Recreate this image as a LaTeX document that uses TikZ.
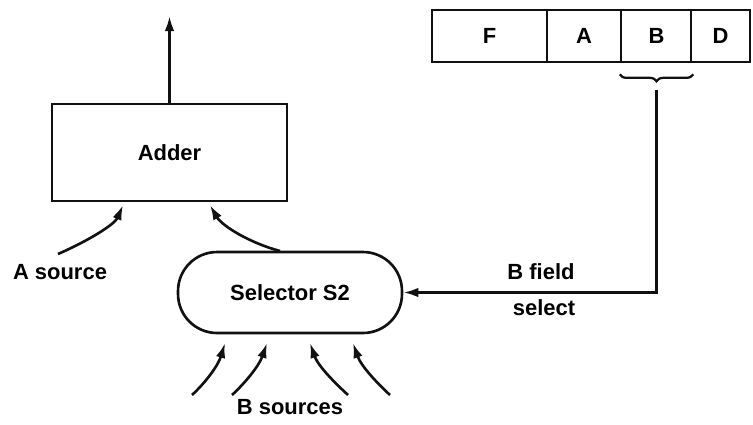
\documentclass[tikz,border=0pt]{standalone}
\usepackage{fontspec}
\setmainfont{Liberation Sans}
\usepackage{tikz}
\usepackage{xcolor}
\usetikzlibrary{arrows.meta,positioning,calc,decorations.pathreplacing}
\definecolor{ink}  {HTML}{111111}
\definecolor{paper}{HTML}{FFFFFF}
\tikzset{
  unitbox/.style  ={draw=ink, fill=paper, line width=1.5pt,
                    minimum width=4.7cm, minimum height=1.94cm,
                    align=center, font=\fontsize{12.5}{14}\selectfont\bfseries, inner sep=4pt},
  selbox/.style   ={draw=ink, fill=paper, line width=1.5pt, rounded corners=0.78cm,
                    minimum width=4.48cm, minimum height=1.62cm,
                    align=center, font=\fontsize{12.5}{14}\selectfont\bfseries, inner sep=4pt},
  cellbox/.style  ={draw=ink, fill=paper, line width=1.5pt,
                    minimum height=1.04cm, inner sep=0pt,
                    font=\fontsize{12.5}{14}\selectfont\bfseries},
  lbl/.style      ={font=\fontsize{12.5}{14}\selectfont\bfseries, inner sep=1pt},
  flowarr/.style  ={-{Latex[length=3mm,width=1.9mm]}, line width=1.5pt, draw=ink},
  bracearr/.style ={decorate, decoration={brace,amplitude=0.14cm}, line width=1.3pt, draw=ink},
}
\begin{document}
\begin{tikzpicture}[x=0.02cm,y=-0.02cm]
        \useasboundingbox (0,0) rectangle (753,424);
        % instruction word
        \node[cellbox,minimum width=2.3cm]  (fF) at (489.5,36) {F};
        \node[cellbox,minimum width=1.48cm] (fA) at (584,36)   {A};
        \node[cellbox,minimum width=1.42cm] (fB) at (656.5,36) {B};
        \node[cellbox,minimum width=1.18cm] (fD) at (720.5,36) {D};
        \draw[bracearr] ($(fB.south east)+(0,11)$) -- ($(fB.south west)+(0,11)$);
        \coordinate (btap) at (656.5,90);
        % adder and selector
        \node[unitbox] (adder) at (169.5,152.5) {Adder};
        \node[selbox]  (sel)   at (290,292.5)   {Selector S2};
        \coordinate (sum) at (169.5,16);
        \draw[flowarr] (adder.north) -- (sum);
        \draw[flowarr] (btap) |- (sel.east);
        \node[lbl] (bfield) at (541,272) {B field};
        \node[lbl] (bsel)   at (544,308) {select};
        % A source
        \coordinate (asrc) at (58,254);
        \coordinate (ain)  at (123,205);
        \draw[flowarr] (asrc) .. controls (90,240) and (115,224) .. (ain);
        \node[lbl] (alab) at (60,272) {A source};
        % selector output into adder
        \coordinate (selout) at (280,251);
        \coordinate (bin)    at (210,205);
        \draw[flowarr] (selout) .. controls (250,243) and (222,226) .. (bin);
        % B sources
        \coordinate (b1) at (192,395); \coordinate (s1) at (225,343);
        \coordinate (b2) at (232,395); \coordinate (s2) at (267,343);
        \coordinate (b3) at (348,395); \coordinate (s3) at (310,343);
        \coordinate (b4) at (390,395); \coordinate (s4) at (353,343);
        \draw[flowarr] (b1) .. controls (205,383) and (218,366) .. (s1);
        \draw[flowarr] (b2) .. controls (245,383) and (259,366) .. (s2);
        \draw[flowarr] (b3) .. controls (335,383) and (318,366) .. (s3);
        \draw[flowarr] (b4) .. controls (377,383) and (361,366) .. (s4);
        \node[lbl] (blab) at (290,407) {B sources};
      \end{tikzpicture}
\end{document}
